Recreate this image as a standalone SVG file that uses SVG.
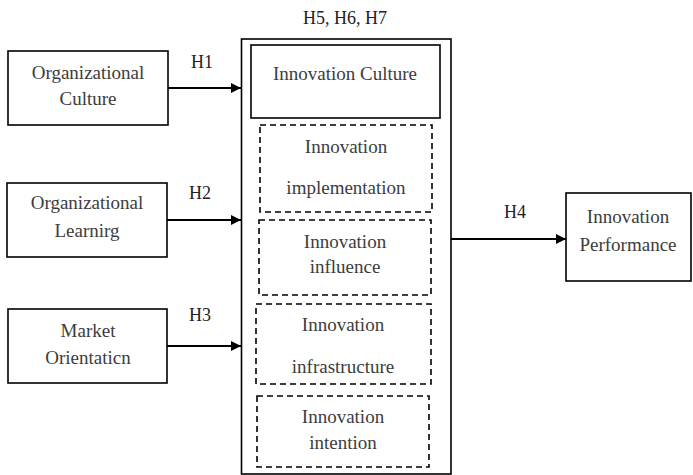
<svg xmlns="http://www.w3.org/2000/svg" width="693" height="475" viewBox="0 0 693 475">
  <style>
    .box { fill: #ffffff; stroke: #000000; stroke-width: 1.6; }
    .dash { fill: none; stroke: #000000; stroke-width: 1.6; stroke-dasharray: 6 4; }
    .frame { fill: none; stroke: #000000; stroke-width: 1.6; }
    text { font-family: 'Liberation Serif', 'Times New Roman', serif; font-size: 19px; fill: #3c3c3c; text-anchor: middle; }
    text.h { font-size: 18px; fill: #222222; }
    .edge { stroke: #000000; stroke-width: 2; fill: none; marker-end: url(#arrow); }
  </style>
  <defs>
    <marker id="arrow" viewBox="0 0 10 10" refX="10" refY="5" markerWidth="10" markerHeight="10" markerUnits="userSpaceOnUse" orient="auto">
      <path d="M0,0 L10,5 L0,10 Z" fill="#000000"/>
    </marker>
  </defs>
  <rect width="693" height="475" fill="#ffffff"/>

  <g id="org-culture">
    <rect class="box" x="8" y="51" width="160" height="74"/>
    <text x="88" y="79">Organizational</text>
    <text x="88" y="105">Culture</text>
  </g>

  <g id="org-learning">
    <rect class="box" x="7" y="183" width="160" height="74"/>
    <text x="87" y="209">Organizational</text>
    <text x="87" y="237">Learnirg</text>
  </g>

  <g id="market-orientation">
    <rect class="box" x="8" y="309" width="159" height="74"/>
    <text x="88" y="337">Market</text>
    <text x="88" y="364">Orientaticn</text>
  </g>

  <g id="innovation-group">
    <rect class="frame" x="241.5" y="39" width="209.5" height="435"/>
    <text class="h" x="345" y="24">H5, H6, H7</text>
  </g>

  <g id="innovation-culture">
    <rect class="box" x="251" y="45" width="189" height="73"/>
    <text x="345" y="80">Innovation Culture</text>
  </g>

  <g id="innovation-implementation">
    <rect class="dash" x="260" y="125" width="172" height="87"/>
    <text x="346" y="153">Innovation</text>
    <text x="346" y="194">implementation</text>
  </g>

  <g id="innovation-influence">
    <rect class="dash" x="259" y="220" width="172" height="75"/>
    <text x="345" y="248">Innovation</text>
    <text x="345" y="273">influence</text>
  </g>

  <g id="innovation-infrastructure">
    <rect class="dash" x="256" y="304" width="175" height="80"/>
    <text x="343" y="331">Innovation</text>
    <text x="343" y="373">infrastructure</text>
  </g>

  <g id="innovation-intention">
    <rect class="dash" x="257" y="396" width="172" height="71"/>
    <text x="343" y="423">Innovation</text>
    <text x="343" y="449">intention</text>
  </g>

  <g id="innovation-performance">
    <rect class="box" x="566" y="193" width="125" height="88"/>
    <text x="628" y="223">Innovation</text>
    <text x="628" y="251">Performance</text>
  </g>

  <g id="connectors">
    <path class="edge" d="M168,88 L241,88"/>
    <path class="edge" d="M167,220 L241,220"/>
    <path class="edge" d="M167,346 L241,346"/>
    <path class="edge" d="M451,239 L566,239"/>
    <text class="h" x="202" y="68">H1</text>
    <text class="h" x="200" y="199">H2</text>
    <text class="h" x="200" y="321">H3</text>
    <text class="h" x="515" y="218">H4</text>
  </g>
</svg>
